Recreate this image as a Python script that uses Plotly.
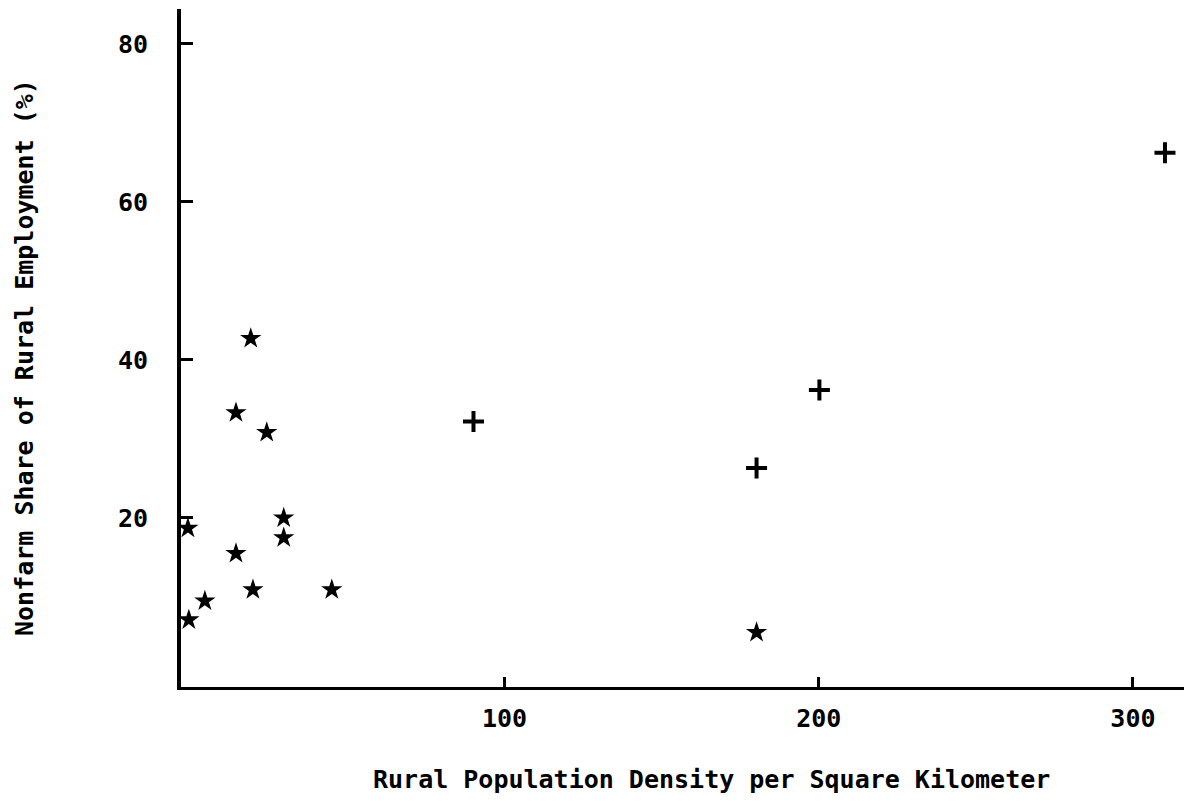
import plotly.graph_objects as go

# Data
star_x = [19.2, 14.5, 24.3, -0.8, 29.7, 29.7, 14.5, 19.9, 45.0, 4.6, -0.5, 180.2]
star_y = [42.7, 33.3, 30.8, 18.7, 20.0, 17.5, 15.5, 10.9, 10.9, 9.5, 7.1, 5.5]
plus_x = [90.1, 180.2, 200.2, 310.2]
plus_y = [32.2, 26.3, 36.2, 66.2]

x_ticks = [100, 200, 300]
y_ticks = [20, 40, 60, 80]

x_title = "Rural Population Density per Square Kilometer"
y_title = "Nonfarm Share of Rural Employment (%)"

FONT = "DejaVu Sans Mono"

fig = go.Figure()
fig.add_trace(go.Scatter(
    x=star_x, y=star_y, mode="markers",
    marker=dict(symbol="star", size=16, color="black", line=dict(width=0)),
    showlegend=False, hoverinfo="skip"))
fig.add_trace(go.Scatter(
    x=plus_x, y=plus_y, mode="markers",
    marker=dict(symbol="cross-thin", size=15, color="black",
                line=dict(width=4, color="black")),
    showlegend=False, hoverinfo="skip"))

fig.update_layout(
    width=1184, height=785,
    margin=dict(l=173, r=0, t=1, b=106),
    paper_bgcolor="white", plot_bgcolor="white",
    font=dict(family=FONT, size=25, color="black"),
    xaxis=dict(
        range=[-3.0, 318.8], tickvals=x_ticks, ticktext=[str(v) for v in x_ticks],
        showgrid=False, zeroline=False, showline=True, linecolor="black", linewidth=3,
        ticks="inside", ticklen=10, tickwidth=3, tickcolor="black",
        tickfont=dict(family=FONT, size=25, color="black", weight="bold"),
        ticklabelstandoff=7,
    ),
    yaxis=dict(
        range=[-1.4, 84.4], tickvals=y_ticks, ticktext=[str(v) for v in y_ticks],
        showgrid=False, zeroline=False, showline=True, linecolor="black", linewidth=4,
        ticks="inside", ticklen=12, tickwidth=2.5, tickcolor="black",
        tickfont=dict(family=FONT, size=25, color="black", weight="bold"),
        ticklabelstandoff=24,
    ),
    annotations=[
        dict(text=x_title, xref="paper", yref="paper", x=0.5247, y=-0.1357,
             xanchor="center", yanchor="middle", showarrow=False,
             font=dict(family=FONT, size=25, color="black", weight="bold")),
        dict(text=y_title, xref="paper", yref="paper", x=-0.1553, y=0.4867,
             xanchor="center", yanchor="middle", showarrow=False, textangle=-90,
             font=dict(family=FONT, size=25, color="black", weight="bold")),
    ],
)

fig.write_html("out.html")
